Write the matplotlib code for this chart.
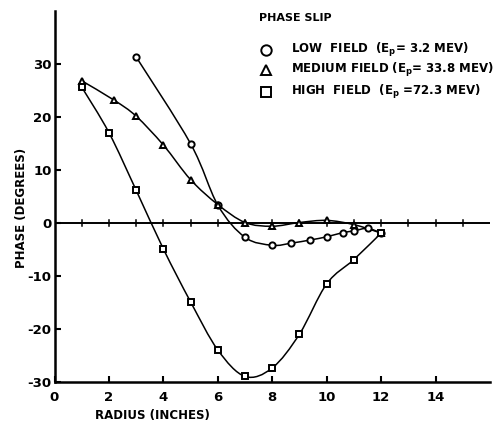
import numpy as np
import matplotlib
matplotlib.use("Agg")
import matplotlib.pyplot as plt
from matplotlib.path import Path
from matplotlib.patches import PathPatch

# Data
low_r = [3, 5, 6, 7, 8, 8.7, 9.4, 10.0, 10.6, 11.0, 11.5, 12.0]
low_phase = [31.4, 15.0, 3.4, -2.7, -4.2, -3.8, -3.2, -2.6, -1.8, -1.5, -1.0, -1.9]
med_r = [1, 2.2, 3, 4, 5, 6, 7, 8, 9, 10, 11, 12.0]
med_phase = [26.9, 23.2, 20.2, 14.75, 8.2, 3.5, 0.1, -0.6, 0.1, 0.5, -0.3, -1.9]
high_r = [1, 2, 3, 4, 5, 6, 7, 8, 9, 10, 11, 12]
high_phase = [25.7, 17.1, 6.2, -4.9, -14.9, -24.0, -29.0, -27.4, -21.0, -11.5, -6.9, -1.9]

legend_title = "PHASE SLIP"
legend_labels = [r"LOW  FIELD  (E$_\mathbf{p}$= 3.2 MEV)",
                 r"MEDIUM FIELD (E$_\mathbf{p}$= 33.8 MEV)",
                 r"HIGH  FIELD  (E$_\mathbf{p}$ =72.3 MEV)"]
xticks = [0, 2, 4, 6, 8, 10, 12, 14]
yticks = [-30, -20, -10, 0, 10, 20, 30]

plt.rcParams['font.family'] = ['DejaVu Sans']
plt.rcParams['font.weight'] = 'bold'
plt.rcParams['mathtext.default'] = 'bf'
plt.rcParams['axes.unicode_minus'] = False

fig = plt.figure(figsize=(5.04, 4.22), dpi=100)
W, H = 504, 422
x0, x1 = 54.5, 490
y0, y1 = 381.7, 11.5
ax = fig.add_axes([x0 / W, 1 - y0 / H, (x1 - x0) / W, (y0 - y1) / H])
ax.set_xlim(0, 16)
ax.set_ylim(-30, 40)
for s in ['top', 'right']:
    ax.spines[s].set_visible(False)
for s in ['left', 'bottom']:
    ax.spines[s].set_linewidth(1.8)
ax.set_xticks(xticks)
ax.set_yticks(yticks)
ax.tick_params(axis='both', direction='in', length=4, width=1.5, labelsize=9.5)
ax.tick_params(axis='x', pad=7)
ax.tick_params(axis='y', pad=2)
for lab in ax.get_xticklabels() + ax.get_yticklabels():
    lab.set_fontweight('bold')

# zero line with ticks
ax.axhline(0, color='black', lw=1.4, zorder=2)
for t in range(1, 16):
    ax.plot([t, t], [-0.6, 0.6], color='black', lw=1.1, zorder=2)


def smooth_path(xs, ys):
    pts = np.column_stack([xs, ys]).astype(float)
    n = len(pts)
    verts = [pts[0]]
    codes = [Path.MOVETO]
    for i in range(n - 1):
        p0 = pts[i - 1] if i > 0 else pts[i]
        p1 = pts[i]
        p2 = pts[i + 1]
        p3 = pts[i + 2] if i + 2 < n else pts[i + 1]
        c1 = p1 + (p2 - p0) / 6.0
        c2 = p2 - (p3 - p1) / 6.0
        verts += [c1, c2, p2]
        codes += [Path.CURVE4] * 3
    return Path(verts, codes)


for xs, ys, m in [(low_r, low_phase, 'o'), (med_r, med_phase, '^'), (high_r, high_phase, 's')]:
    ax.add_patch(PathPatch(smooth_path(xs, ys), facecolor='none', edgecolor='black', lw=1.1, zorder=3))
    ax.plot(xs, ys, linestyle='none', marker=m, markersize=4.5, markerfacecolor='white',
            markeredgecolor='black', markeredgewidth=1.4, zorder=4)

# axis labels
fig.text(152 / W, 1 - 415 / H, "RADIUS (INCHES)", ha='center', va='center', fontsize=8.5, fontweight='bold')
fig.text(22 / W, 1 - 208 / H, "PHASE (DEGREES)", ha='center', va='center', rotation=90,
         fontsize=8.5, fontweight='bold')

# legend
fig.text(259 / W, 1 - 18 / H, legend_title, ha='left', va='center', fontsize=8, fontweight='bold')
markers = ['o', '^', 's']
ys_leg = [50, 70, 92]
for mk, yl, lab in zip(markers, ys_leg, legend_labels):
    fig.lines.append(plt.Line2D([265.7 / W], [1 - yl / H], transform=fig.transFigure, marker=mk,
                                markersize=7.5, markerfacecolor='white', markeredgecolor='black',
                                markeredgewidth=1.4, linestyle='none'))
    fig.text(291 / W, 1 - yl / H, lab, ha='left', va='center', fontsize=8.5, fontweight='bold')

fig.savefig("out.png", dpi=100)
